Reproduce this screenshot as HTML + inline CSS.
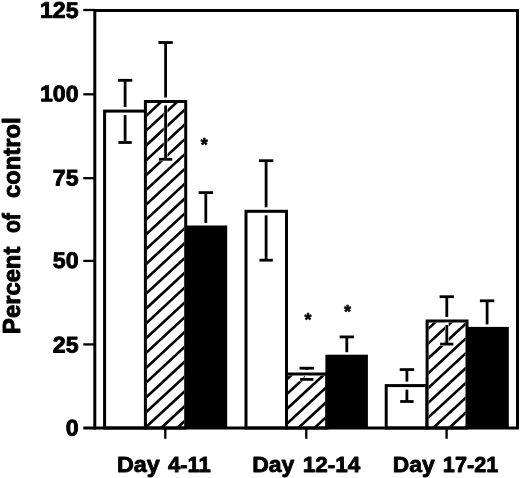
<!DOCTYPE html><html><head><meta charset="utf-8"><title>Percent of control</title>
<style>html,body{margin:0;padding:0;background:#fff;overflow:hidden}svg{display:block}text{font-family:"Liberation Sans",sans-serif;font-weight:bold;fill:#000;stroke:#000;stroke-width:0.9px;stroke-linejoin:round}</style></head><body>
<svg width="520" height="478" viewBox="0 0 520 478">
<rect width="520" height="478" fill="#fff"/>
<defs><clipPath id="c1"><rect x="146.9" y="103.0" width="37.3" height="325.0"/></clipPath><clipPath id="c4"><rect x="288.0" y="375.5" width="37.4" height="52.5"/></clipPath><clipPath id="c7"><rect x="428.6" y="322.5" width="36.9" height="105.5"/></clipPath></defs>
<rect x="104.6" y="111.1" width="41.2" height="316.9" fill="#fff" stroke="#000" stroke-width="3"/>
<rect x="145.4" y="101.5" width="40.3" height="326.5" fill="#fff" stroke="#000" stroke-width="3"/>
<g clip-path="url(#c1)" stroke="#000" stroke-width="2.6"><line x1="141.9" y1="104.9" x2="189.2" y2="61.1"/><line x1="141.9" y1="119.7" x2="189.2" y2="76.0"/><line x1="141.9" y1="134.5" x2="189.2" y2="90.8"/><line x1="141.9" y1="149.4" x2="189.2" y2="105.6"/><line x1="141.9" y1="164.2" x2="189.2" y2="120.4"/><line x1="141.9" y1="179.0" x2="189.2" y2="135.2"/><line x1="141.9" y1="193.8" x2="189.2" y2="150.1"/><line x1="141.9" y1="208.6" x2="189.2" y2="164.9"/><line x1="141.9" y1="223.5" x2="189.2" y2="179.7"/><line x1="141.9" y1="238.3" x2="189.2" y2="194.5"/><line x1="141.9" y1="253.1" x2="189.2" y2="209.3"/><line x1="141.9" y1="267.9" x2="189.2" y2="224.2"/><line x1="141.9" y1="282.7" x2="189.2" y2="239.0"/><line x1="141.9" y1="297.6" x2="189.2" y2="253.8"/><line x1="141.9" y1="312.4" x2="189.2" y2="268.6"/><line x1="141.9" y1="327.2" x2="189.2" y2="283.4"/><line x1="141.9" y1="342.0" x2="189.2" y2="298.3"/><line x1="141.9" y1="356.8" x2="189.2" y2="313.1"/><line x1="141.9" y1="371.7" x2="189.2" y2="327.9"/><line x1="141.9" y1="386.5" x2="189.2" y2="342.7"/><line x1="141.9" y1="401.3" x2="189.2" y2="357.5"/><line x1="141.9" y1="416.1" x2="189.2" y2="372.4"/><line x1="141.9" y1="430.9" x2="189.2" y2="387.2"/><line x1="141.9" y1="445.8" x2="189.2" y2="402.0"/><line x1="141.9" y1="460.6" x2="189.2" y2="416.8"/><line x1="141.9" y1="475.4" x2="189.2" y2="431.6"/></g>
<rect x="185.8" y="225.5" width="41.4" height="202.5" fill="#000"/>
<rect x="246.0" y="211.3" width="40.5" height="216.7" fill="#fff" stroke="#000" stroke-width="3"/>
<rect x="286.5" y="374.0" width="40.4" height="54.0" fill="#fff" stroke="#000" stroke-width="3"/>
<g clip-path="url(#c4)" stroke="#000" stroke-width="2.6"><line x1="283.0" y1="368.1" x2="330.4" y2="324.2"/><line x1="283.0" y1="382.9" x2="330.4" y2="339.1"/><line x1="283.0" y1="397.7" x2="330.4" y2="353.9"/><line x1="283.0" y1="412.5" x2="330.4" y2="368.7"/><line x1="283.0" y1="427.4" x2="330.4" y2="383.5"/><line x1="283.0" y1="442.2" x2="330.4" y2="398.3"/><line x1="283.0" y1="457.0" x2="330.4" y2="413.2"/><line x1="283.0" y1="471.8" x2="330.4" y2="428.0"/></g>
<rect x="325.4" y="354.7" width="42.5" height="73.3" fill="#000"/>
<rect x="386.2" y="385.6" width="40.7" height="42.4" fill="#fff" stroke="#000" stroke-width="3"/>
<rect x="427.1" y="321.0" width="39.9" height="107.0" fill="#fff" stroke="#000" stroke-width="3"/>
<g clip-path="url(#c7)" stroke="#000" stroke-width="2.6"><line x1="423.6" y1="318.2" x2="470.5" y2="274.8"/><line x1="423.6" y1="333.0" x2="470.5" y2="289.6"/><line x1="423.6" y1="347.8" x2="470.5" y2="304.5"/><line x1="423.6" y1="362.7" x2="470.5" y2="319.3"/><line x1="423.6" y1="377.5" x2="470.5" y2="334.1"/><line x1="423.6" y1="392.3" x2="470.5" y2="348.9"/><line x1="423.6" y1="407.1" x2="470.5" y2="363.7"/><line x1="423.6" y1="421.9" x2="470.5" y2="378.6"/><line x1="423.6" y1="436.8" x2="470.5" y2="393.4"/><line x1="423.6" y1="451.6" x2="470.5" y2="408.2"/><line x1="423.6" y1="466.4" x2="470.5" y2="423.0"/></g>
<rect x="467.0" y="326.9" width="41.8" height="101.1" fill="#000"/>
<g><line x1="165.6" y1="103.0" x2="165.6" y2="159.3" stroke="#fff" stroke-width="3.8"/><line x1="157.9" y1="159.3" x2="173.3" y2="159.3" stroke="#fff" stroke-width="3.8"/><line x1="306.7" y1="375.5" x2="306.7" y2="379.4" stroke="#fff" stroke-width="3.8"/><line x1="299.0" y1="379.4" x2="314.4" y2="379.4" stroke="#fff" stroke-width="3.8"/><line x1="446.8" y1="322.5" x2="446.8" y2="344.1" stroke="#fff" stroke-width="3.8"/><line x1="439.1" y1="344.1" x2="454.4" y2="344.1" stroke="#fff" stroke-width="3.8"/></g>
<g stroke="#000" stroke-width="2.8" fill="none">
<line x1="117.9" y1="80.3" x2="132.3" y2="80.3"/><line x1="125.1" y1="80.3" x2="125.1" y2="107.1"/><line x1="125.1" y1="115.1" x2="125.1" y2="142.5"/><line x1="118.4" y1="142.5" x2="131.8" y2="142.5"/>
<line x1="158.4" y1="42.5" x2="172.8" y2="42.5"/><line x1="165.6" y1="42.5" x2="165.6" y2="97.5"/><line x1="165.6" y1="105.5" x2="165.6" y2="159.3"/><line x1="158.9" y1="159.3" x2="172.3" y2="159.3"/>
<line x1="198.6" y1="192.6" x2="213.0" y2="192.6"/><line x1="205.8" y1="192.6" x2="205.8" y2="223.0"/>
<line x1="258.9" y1="160.7" x2="273.3" y2="160.7"/><line x1="266.1" y1="160.7" x2="266.1" y2="207.3"/><line x1="266.1" y1="215.3" x2="266.1" y2="260.2"/><line x1="259.4" y1="260.2" x2="272.8" y2="260.2"/>
<line x1="299.5" y1="368.2" x2="313.9" y2="368.2"/><line x1="306.7" y1="368.2" x2="306.7" y2="370.0"/><line x1="306.7" y1="378.0" x2="306.7" y2="379.4"/><line x1="300.0" y1="379.4" x2="313.4" y2="379.4"/>
<line x1="339.6" y1="336.9" x2="354.0" y2="336.9"/><line x1="346.8" y1="336.9" x2="346.8" y2="352.2"/>
<line x1="399.7" y1="369.6" x2="414.1" y2="369.6"/><line x1="406.9" y1="369.6" x2="406.9" y2="381.6"/><line x1="406.9" y1="389.6" x2="406.9" y2="401.5"/><line x1="400.2" y1="401.5" x2="413.6" y2="401.5"/>
<line x1="439.6" y1="296.7" x2="453.9" y2="296.7"/><line x1="446.8" y1="296.7" x2="446.8" y2="317.0"/><line x1="446.8" y1="325.0" x2="446.8" y2="344.1"/><line x1="440.1" y1="344.1" x2="453.4" y2="344.1"/>
<line x1="479.9" y1="300.8" x2="494.3" y2="300.8"/><line x1="487.1" y1="300.8" x2="487.1" y2="324.4"/>
</g>
<g stroke="#000" stroke-width="3" fill="none" stroke-linecap="butt">
<path d="M94.8 429.5V10.5H517.5V428.0"/>
<line x1="83.3" y1="428.0" x2="519.0" y2="428.0"/>
</g>
<g stroke="#000" stroke-width="2.3" fill="none">
<line x1="83.3" y1="10.0" x2="94.8" y2="10.0"/>
<line x1="83.3" y1="94.3" x2="94.8" y2="94.3"/>
<line x1="83.3" y1="178.2" x2="94.8" y2="178.2"/>
<line x1="83.3" y1="260.9" x2="94.8" y2="260.9"/>
<line x1="83.3" y1="344.4" x2="94.8" y2="344.4"/>
<line x1="165.3" y1="428.0" x2="165.3" y2="438.8"/>
<line x1="306.3" y1="428.0" x2="306.3" y2="438.8"/>
<line x1="446.6" y1="428.0" x2="446.6" y2="438.8"/>
</g>
<text transform="translate(78.6 17.9) rotate(0.1) scale(1.02 1)" font-size="22.7" text-anchor="end">125</text>
<text transform="translate(78.6 101.4) rotate(0.1) scale(1.02 1)" font-size="22.7" text-anchor="end">100</text>
<text transform="translate(78.6 185.5) rotate(0.1) scale(1.02 1)" font-size="22.7" text-anchor="end">75</text>
<text transform="translate(78.6 268.1) rotate(0.1) scale(1.02 1)" font-size="22.7" text-anchor="end">50</text>
<text transform="translate(78.6 352.5) rotate(0.1) scale(1.02 1)" font-size="22.7" text-anchor="end">25</text>
<text transform="translate(78.6 435.5) rotate(0.1) scale(1.02 1)" font-size="22.7" text-anchor="end">0</text>
<text y="472.3" font-size="22" style="stroke-width:0.8px" xml:space="preserve"><tspan x="116.99" textLength="42.89" lengthAdjust="spacingAndGlyphs">Day</tspan> <tspan x="167.96" textLength="42.93" lengthAdjust="spacingAndGlyphs">4-11</tspan></text>
<text y="472.3" font-size="22" style="stroke-width:0.8px" xml:space="preserve"><tspan x="252.16" textLength="42.17" lengthAdjust="spacingAndGlyphs">Day</tspan> <tspan x="302.75" textLength="57.41" lengthAdjust="spacingAndGlyphs">12-14</tspan></text>
<text y="472.3" font-size="22" style="stroke-width:0.8px" xml:space="preserve"><tspan x="392.81" textLength="41.89" lengthAdjust="spacingAndGlyphs">Day</tspan> <tspan x="442.87" textLength="55.49" lengthAdjust="spacingAndGlyphs">17-21</tspan></text>
<text transform="translate(19.5 333.9) rotate(-90) scale(1 1.07)" font-size="22" xml:space="preserve"><tspan x="0.0" textLength="87.2" lengthAdjust="spacingAndGlyphs">Percent</tspan> <tspan x="100.8" textLength="20.0" lengthAdjust="spacingAndGlyphs">of</tspan> <tspan x="135.9" textLength="80.5" lengthAdjust="spacingAndGlyphs">control</tspan></text>
<text x="204.3" y="150.6" font-size="18" text-anchor="middle" style="stroke-width:0.6px">*</text>
<text x="308" y="326.0" font-size="18" text-anchor="middle" style="stroke-width:0.6px">*</text>
<text x="347.6" y="318.0" font-size="18" text-anchor="middle" style="stroke-width:0.6px">*</text>
</svg></body></html>
